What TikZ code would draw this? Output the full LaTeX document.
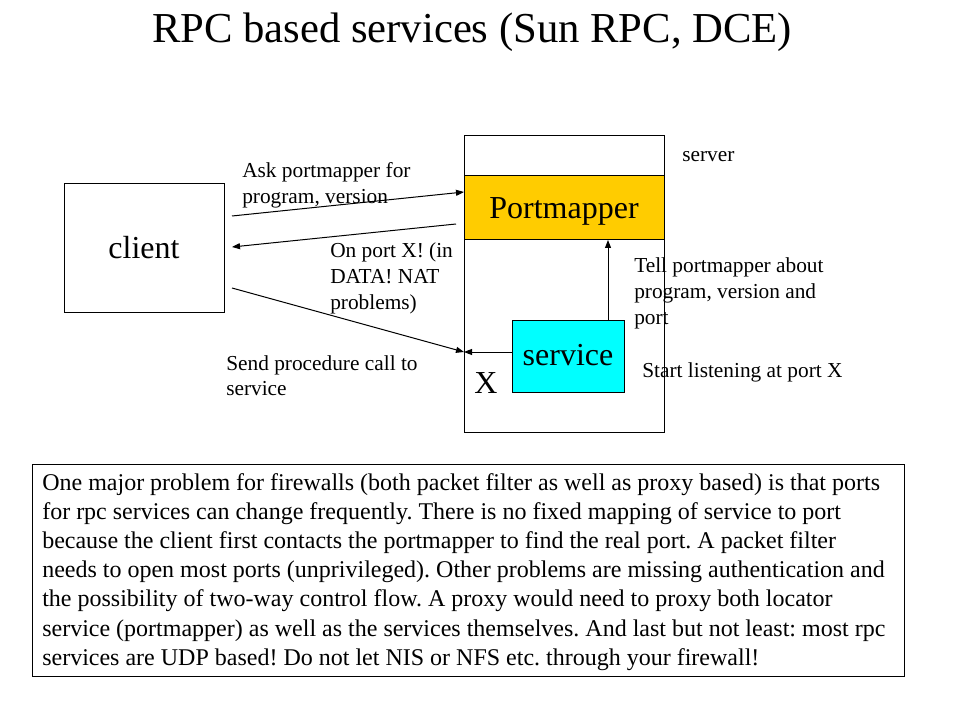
\documentclass[tikz,border=0pt]{standalone}
\usepackage{fontspec}
\setmainfont{Liberation Serif}
\usetikzlibrary{arrows.meta}
\definecolor{pmyellow}{HTML}{FFCC00}
\definecolor{svccyan}{HTML}{00FFFF}
\frenchspacing
\begin{document}
\begin{tikzpicture}[x=0.75pt,y=-0.75pt,
  box/.style={draw=black, line width=0.75pt, inner sep=0pt},
  arr/.style={-{Triangle[length=6pt,width=4.5pt]}, line width=0.75pt},
  lbl/.style={inner sep=0pt, anchor=base west, font=\fontsize{16}{19.2}\selectfont},
  big/.style={font=\fontsize{24}{28.8}\selectfont},
]
\useasboundingbox (0,0) rectangle (960,720);
\node[inner sep=0pt, anchor=base, font=\fontsize{32}{38.4}\selectfont] (title) at (472,43) {RPC based services (Sun RPC, DCE)};

% server and its parts
\node[box, minimum width=150pt, minimum height=222pt] (server) at (564,284) {};
\node[box, big, fill=pmyellow, minimum width=150pt, minimum height=48pt, text height=19pt, text depth=3pt] (pm) at (564,208) {Portmapper};
\node[box, big, fill=svccyan, minimum width=84pt, minimum height=54pt, text height=17.5pt, text depth=3pt] (svc) at (568,356) {service};
\node[inner sep=0pt, anchor=base west, big] (xlbl) at (474,393) {X};

% client
\node[box, big, minimum width=120pt, minimum height=96pt, text height=19pt, text depth=3pt] (client) at (144,248) {client};

% connector ends
\coordinate (askS) at (232,216);
\coordinate (askE) at (464,192);
\coordinate (repS) at (456,224);
\coordinate (repE) at (232,247);
\coordinate (sndS) at (232,288);
\coordinate (portX) at (464,352);
\coordinate (svcL) at (512,352);
\coordinate (upS) at (608,320);
\coordinate (upE) at (608,240);

\draw[arr] (askS) -- (askE);
\draw[arr] (repS) -- (repE);
\draw[arr] (sndS) -- (portX);
\draw[arr] (svcL) -- (portX);
\draw[arr] (upS) -- (upE);

% labels
\node[lbl] (l1) at (242,178) {\begin{tabular}[t]{@{}l@{}}Ask portmapper for\\program, version\end{tabular}};
\node[lbl] (l2) at (330,258) {\begin{tabular}[t]{@{}l@{}}On port X! (in\\DATA! NAT\\problems)\end{tabular}};
\node[lbl] (l3) at (226,370) {\begin{tabular}[t]{@{}l@{}}Send procedure call to\\service\end{tabular}};
\node[lbl] (l4) at (634,273) {\begin{tabular}[t]{@{}l@{}}Tell portmapper about\\program, version and\\port\end{tabular}};
\node[lbl] (l5) at (642,377) {Start listening at port X};
\node[lbl] (l6) at (682,162) {server};

% bottom note
\node[box, minimum width=654pt, minimum height=159pt] (note) at (468,570) {};
\node[inner sep=0pt, anchor=base west, font=\fontsize{18}{21.9}\selectfont] (notetext) at (42,490) {\begin{tabular}[t]{@{}l@{}}
One major problem for firewalls (both packet filter as well as proxy based) is that ports\\
for rpc services can change frequently. There is no fixed mapping of service to port\\
because the client first contacts the portmapper to find the real port. A packet filter\\
needs to open most ports (unprivileged). Other problems are missing authentication and\\
the possibility of two-way control flow. A proxy would need to proxy both locator\\
service (portmapper) as well as the services themselves. And last but not least: most rpc\\
services are UDP based! Do not let NIS or NFS etc. through your firewall!
\end{tabular}};
\end{tikzpicture}
\end{document}
